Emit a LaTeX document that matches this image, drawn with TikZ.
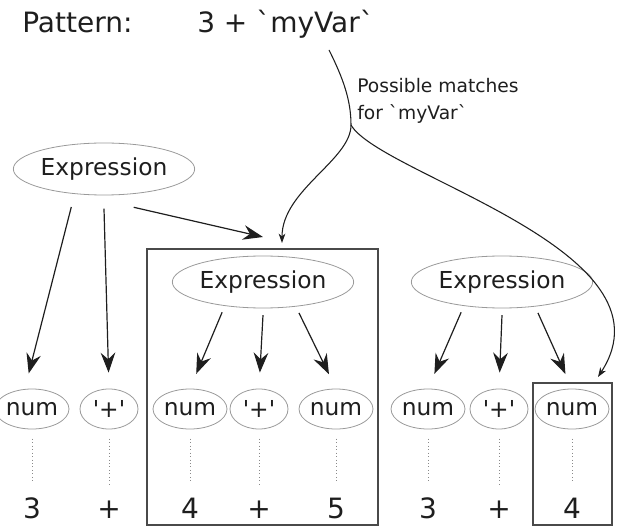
\documentclass[tikz,border=0pt]{standalone}
\usepackage{fontspec}
\newfontfamily\diagfont{DejaVu Sans}
\usepackage{tikz}
\usetikzlibrary{arrows.meta,shapes.geometric}
\definecolor{inkdark}{HTML}{1E1E1E}
\definecolor{rimgray}{HTML}{9A9A9A}
\definecolor{boxgray}{HTML}{4A4A4A}
\definecolor{dotgray}{HTML}{8A8A8A}
\tikzset{
  headline/.style={font=\diagfont\fontsize{21}{25}\selectfont,text=inkdark,inner sep=0pt},
  notetext/.style={font=\diagfont\fontsize{14}{20}\selectfont,text=inkdark,inner sep=0pt,align=left},
  exprnode/.style={ellipse,draw=rimgray,line width=0.6pt,minimum width=136pt,minimum height=39pt,inner sep=0pt,font=\diagfont\fontsize{17.5}{21}\selectfont,text=inkdark},
  numleaf/.style={ellipse,draw=rimgray,line width=0.6pt,minimum width=51pt,minimum height=30pt,inner sep=0pt,font=\diagfont\fontsize{17.5}{21}\selectfont,text=inkdark},
  plusleaf/.style={numleaf,minimum width=43.5pt},
  token/.style={font=\diagfont\fontsize{21}{25}\selectfont,text=inkdark,inner sep=0pt,anchor=base},
  branch/.style={inkdark,line width=0.9pt,shorten >=12pt,-{Stealth[length=15pt,width=11pt,inset=5pt]}},
  match/.style={inkdark,line width=0.8pt,-{Stealth[length=7pt,width=5pt,inset=2pt]}},
  leafdots/.style={dotgray,dotted,line width=0.6pt,shorten <=7pt,shorten >=11pt},
  matchbox/.style={draw=boxgray,line width=1.1pt,inner sep=0pt}
}
\begin{document}
\begin{tikzpicture}[x=0.75pt,y=-0.75pt]
\useasboundingbox (0,0) rectangle (624,527);
% pattern and note
\node[headline,anchor=base west] (patlabel) at (22,33) {Pattern:};
\node[headline,anchor=base west] (pattern) at (197,33) {3 + `myVar`};
\node[notetext,anchor=west] (note) at (357,101) {Possible matches\\for `myVar`};

% boxes round the matches
\node[matchbox,minimum width=173.25pt,minimum height=207pt] (box1) at (262.5,387) {};
\node[matchbox,minimum width=59.25pt,minimum height=106.5pt] (box2) at (572.5,454) {};

% trees
\node[exprnode] (ex1) at (104,169) {Expression};
\node[exprnode] (ex2) at (263,282) {Expression};
\node[exprnode] (ex3) at (502,282) {Expression};
\node[numleaf] (n1) at (32,409) {num};
\node[plusleaf] (p1) at (109,409) {'+'};
\node[numleaf] (n2) at (190,409) {num};
\node[plusleaf] (p2) at (259,409) {'+'};
\node[numleaf] (n3) at (336,409) {num};
\node[numleaf] (n4) at (428,409) {num};
\node[plusleaf] (p3) at (499,409) {'+'};
\node[numleaf] (n5) at (572,409) {num};

\node[token] (d1) at (32,518) {3};
\node[token] (d2) at (109,518) {+};
\node[token] (d3) at (190,518) {4};
\node[token] (d4) at (259,518) {+};
\node[token] (d5) at (336,518) {5};
\node[token] (d6) at (428,518) {3};
\node[token] (d7) at (499,518) {+};
\node[token] (d8) at (572,518) {4};

\foreach \leaf/\tok in {n1/d1,p1/d2,n2/d3,p2/d4,n3/d5,n4/d6,p3/d7,n5/d8}
  \draw[leafdots] (\leaf.south) -- (\tok.north);

\coordinate (hit1) at (263,237);
\draw[branch] ([yshift=-10pt]ex1.217) -- (n1.110);
\draw[branch] ([yshift=-10pt]ex1.270) -- (p1.north);
\draw[branch,shorten >=0pt] ([yshift=-10pt]ex1.320) -- (hit1);

\draw[branch] ([yshift=-5pt]ex2.210) -- (n2.north);
\draw[branch] ([yshift=-5pt]ex2.270) -- (p2.north);
\draw[branch] ([yshift=-5pt]ex2.326) -- (n3.north);

\draw[branch] ([yshift=-5pt]ex3.210) -- (n4.north);
\draw[branch] ([yshift=-5pt]ex3.270) -- (p3.north);
\draw[branch] ([yshift=-5pt]ex3.326) -- (n5.north);

% where `myVar' may bind
\coordinate (varfoot) at (329,50);
\coordinate (split) at (351,125);
\coordinate (hitleft) at (282,243);
\coordinate (hitright) at (598,377);
\draw[match] (varfoot) .. controls (343,78) and (351,100) .. (split)
  .. controls (351,160) and (282,190) .. (hitleft);
\draw[match] (split) .. controls (380,175) and (680,250) .. (hitright);
\end{tikzpicture}
\end{document}
